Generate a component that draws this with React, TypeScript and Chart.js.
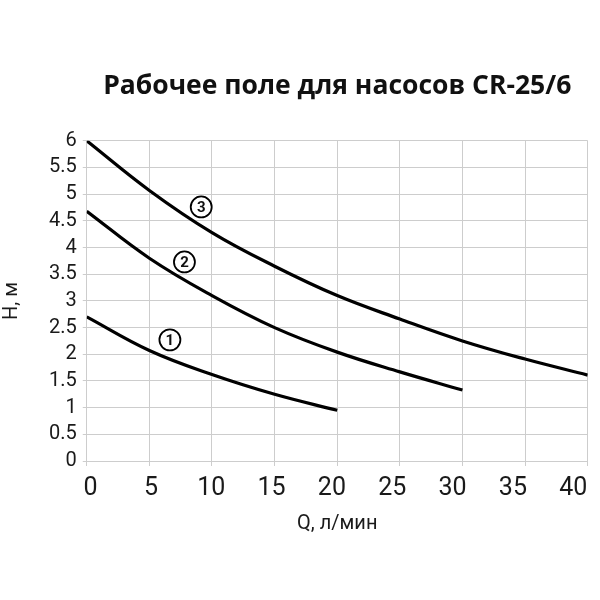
import React, { useEffect, useRef } from "react";
import { Chart, registerables } from "chart.js";

Chart.register(...registerables);

const chartTitle = "Рабочее поле для насосов CR-25/6";
const xTitle = "Q, л/мин";
const yTitle = "H, м";

const curve1Q = [0, 5, 10, 15, 20];
const curve1H = [2.7, 2.07, 1.62, 1.25, 0.95];

const curve2Q = [0, 5, 10, 15, 20, 25, 30];
const curve2H = [4.68, 3.8, 3.1, 2.5, 2.04, 1.67, 1.33];

const curve3Q = [0, 5, 10, 15, 20, 25, 30, 35, 40];
const curve3H = [6.0, 5.07, 4.28, 3.65, 3.1, 2.66, 2.25, 1.91, 1.61];

const markerLabels = ["1", "2", "3"];
const markerQ = [6.64, 7.8, 9.14];
const markerH = [2.27, 3.73, 4.76];

const toPoints = (xs: number[], ys: number[]) => xs.map((x, i) => ({ x, y: ys[i] }));

const gridColor = "#cdcdcd";
const textColor = "#1a1a1a";

const markerTextPlugin = {
  id: "markerText",
  afterDatasetsDraw(chart: any) {
    const meta = chart.getDatasetMeta(3);
    const ctx = chart.ctx;
    ctx.save();
    ctx.fillStyle = "#111";
    ctx.font = "bold 15px Roboto";
    ctx.textAlign = "center";
    ctx.textBaseline = "middle";
    meta.data.forEach((el: any, i: number) => {
      ctx.fillText(markerLabels[i], el.x, el.y + 1);
    });
    ctx.restore();
  },
};

export default function App() {
  const ref = useRef<HTMLCanvasElement | null>(null);

  useEffect(() => {
    if (!ref.current) return;
    const noPad = (s: any) => {
      s.paddingLeft = 0;
      s.paddingRight = 0;
    };
    const lineDs = (data: any) => ({
      data,
      xAxisID: "x",
      yAxisID: "y",
      showLine: true,
      borderColor: "#000",
      borderWidth: 3.2,
      pointRadius: 0,
      tension: 0.4,
      fill: false,
    });
    const chart = new Chart(ref.current, {
      type: "scatter",
      data: {
        datasets: [
          lineDs(toPoints(curve1Q, curve1H)),
          lineDs(toPoints(curve2Q, curve2H)),
          lineDs(toPoints(curve3Q, curve3H)),
          {
            data: toPoints(markerQ, markerH),
            xAxisID: "x",
            yAxisID: "y",
            showLine: false,
            pointRadius: 10.5,
            pointBackgroundColor: "#fff",
            pointBorderColor: "#000",
            pointBorderWidth: 1.8,
          } as any,
        ],
      },
      options: {
        animation: false,
        responsive: true,
        maintainAspectRatio: false,
        layout: { padding: { left: 0, right: 2, top: 0, bottom: 64 } },
        plugins: {
          legend: { display: false },
          tooltip: { enabled: false },
          title: {
            display: true,
            fullSize: false,
            text: chartTitle,
            color: "#111",
            font: { family: "'Open Sans'", size: 26.5, weight: "bold" },
            padding: { top: 71, bottom: 38 },
          },
        },
        scales: {
          x: {
            type: "linear",
            position: "bottom",
            min: 0,
            max: 40,
            ticks: { stepSize: 5, display: false },
            grid: { color: gridColor, lineWidth: 1, tickLength: 5 },
            border: { color: gridColor },
            afterFit: noPad,
          },
          x2: {
            type: "linear",
            position: "bottom",
            min: -0.32,
            max: 41.2,
            grid: { display: false, drawTicks: false },
            border: { display: false },
            ticks: {
              stepSize: 5,
              includeBounds: false,
              padding: 8,
              autoSkip: false,
              maxRotation: 0,
              color: textColor,
              font: { family: "'Liberation Sans Narrow', Roboto", size: 25 },
            },
            title: {
              display: true,
              text: xTitle,
              color: textColor,
              font: { family: "Roboto", size: 20 },
              padding: { top: 0, bottom: 0 },
            },
            afterFit: noPad,
          },
          y: {
            type: "linear",
            min: 0,
            max: 6,
            ticks: {
              stepSize: 0.5,
              autoSkip: false,
              padding: 6,
              color: textColor,
              font: { family: "Roboto", size: 20 },
              callback: (v: any) => String(Math.round(Number(v) * 10) / 10),
            },
            grid: { color: gridColor, lineWidth: 1, tickLength: 4 },
            border: { color: gridColor },
            title: {
              display: true,
              text: yTitle,
              color: textColor,
              font: { family: "Roboto", size: 20 },
              padding: { top: 0, bottom: 19 },
            },
          },
        },
      } as any,
      plugins: [markerTextPlugin],
    });
    return () => chart.destroy();
  }, []);

  return (
    <div style={{ position: "absolute", left: 0, top: 0, width: 600, height: 600, background: "#fff" }}>
      <canvas ref={ref} />
    </div>
  );
}
